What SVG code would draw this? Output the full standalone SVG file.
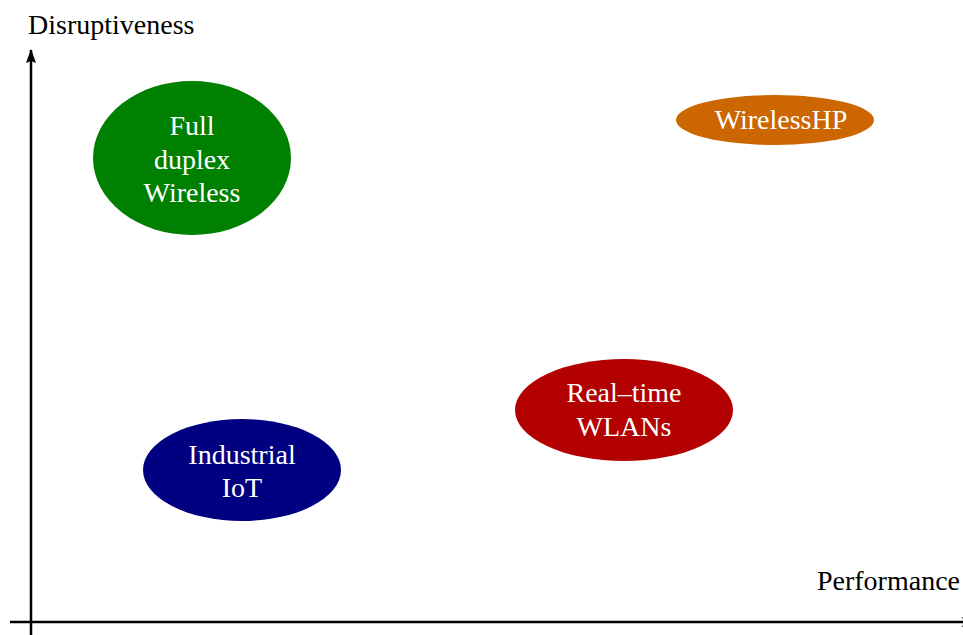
<svg xmlns="http://www.w3.org/2000/svg" width="963" height="635" viewBox="0 0 963 635">
  <style>
    .axis { stroke: #000; stroke-width: 2.5; fill: none; }
    .label { font-family: "Liberation Serif", "Times New Roman", serif; font-size: 28px; fill: #000; }
    .node-text { font-family: "Liberation Serif", "Times New Roman", serif; font-size: 28px; fill: #fff; text-anchor: middle; }
  </style>
  <defs>
    <marker id="arrow" viewBox="0 0 14 10" refX="13" refY="5" markerWidth="14" markerHeight="10" markerUnits="userSpaceOnUse" orient="auto">
      <path d="M0,0 L14,5 L0,10 L2,5 Z" fill="#000"/>
    </marker>
  </defs>
  <rect width="963" height="635" fill="#fff"/>

  <g id="axes">
    <line class="axis" x1="31" y1="635" x2="31" y2="50" marker-end="url(#arrow)"/>
    <line class="axis" x1="10" y1="622" x2="975" y2="622" marker-end="url(#arrow)"/>
    <text class="label" x="28" y="34">Disruptiveness</text>
    <text class="label" x="960" y="590" text-anchor="end">Performance</text>
  </g>

  <g id="full-duplex-wireless">
    <ellipse cx="192" cy="158" rx="99" ry="77" fill="#008000"/>
    <text class="node-text" x="192" y="135">Full</text>
    <text class="node-text" x="192" y="169">duplex</text>
    <text class="node-text" x="192" y="202">Wireless</text>
  </g>

  <g id="wirelesshp">
    <ellipse cx="775" cy="120" rx="99" ry="25" fill="#CC6600"/>
    <text class="node-text" x="781" y="129">WirelessHP</text>
  </g>

  <g id="real-time-wlans">
    <ellipse cx="624" cy="410" rx="109" ry="51" fill="#B30000"/>
    <text class="node-text" x="624" y="402">Real–time</text>
    <text class="node-text" x="624" y="436">WLANs</text>
  </g>

  <g id="industrial-iot">
    <ellipse cx="242" cy="470" rx="99" ry="51" fill="#000080"/>
    <text class="node-text" x="242" y="464">Industrial</text>
    <text class="node-text" x="242" y="497">IoT</text>
  </g>
</svg>
